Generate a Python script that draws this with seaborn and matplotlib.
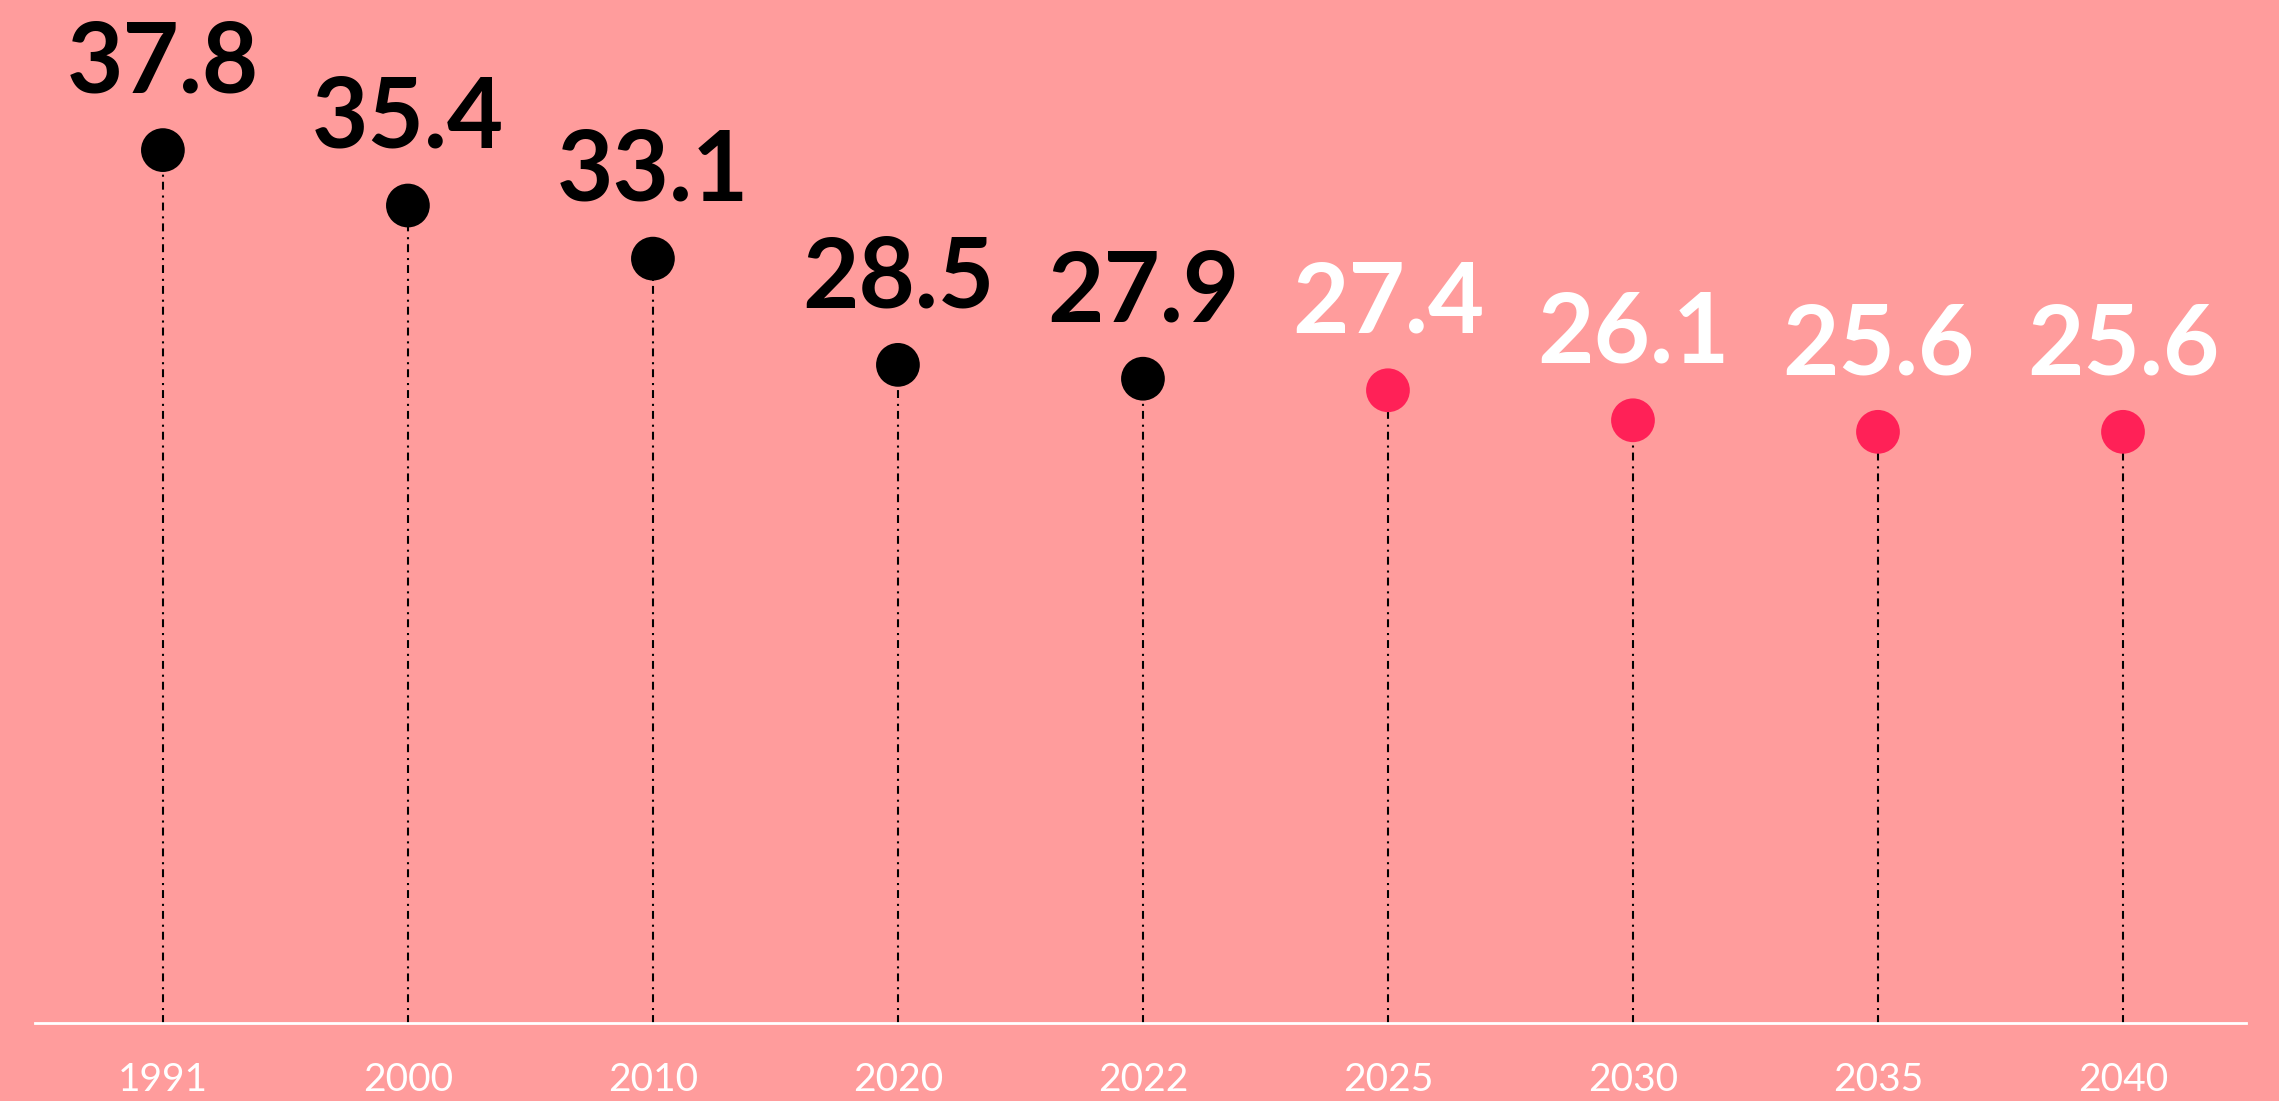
import matplotlib
matplotlib.use("Agg")
import matplotlib.pyplot as plt
import seaborn as sns
import pandas as pd

years = ["1991", "2000", "2010", "2020", "2022", "2025", "2030", "2035", "2040"]
values = [37.8, 35.4, 33.1, 28.5, 27.9, 27.4, 26.1, 25.6, 25.6]
kind = ["actual"] * 5 + ["forecast"] * 4

BG = "#FF9C9C"
MARKER_COLORS = {"actual": "#000000", "forecast": "#FF2157"}
LABEL_COLORS = {"actual": "#000000", "forecast": "#FFFFFF"}

sns.set_theme(style="white")
plt.rcParams["font.family"] = ["Lato", "DejaVu Sans"]

df = pd.DataFrame({"year": years, "value": values, "kind": kind})
df["pos"] = range(len(df))

fig = plt.figure(figsize=(22.79, 11.01), dpi=100, facecolor=BG)
ax = fig.add_axes([35 / 2279, 78 / 1101, (2246 - 35) / 2279, 1 - 78 / 1101])
ax.set_facecolor(BG)

# dash-dot stems from the baseline up to each point
ax.vlines(df["pos"], 0, df["value"], colors="black", linewidth=1.5,
          linestyles=(0, (3.8, 2.4, 1.0, 2.8)), zorder=1)

sns.scatterplot(data=df, x="pos", y="value", hue="kind", palette=MARKER_COLORS,
                s=31.5 ** 2, linewidth=0, legend=False, ax=ax, zorder=3)

for _, r in df.iterrows():
    ax.annotate(f"{r['value']:.1f}", (r["pos"], r["value"]), xytext=(0, 41.5),
                textcoords="offset points", ha="center", va="baseline",
                fontsize=70, fontweight="bold", color=LABEL_COLORS[r["kind"]])

ax.set_xlim(-0.522, 8.502)
ax.set_ylim(0, 44.3)
ax.set_xticks(df["pos"])
ax.set_xticklabels(df["year"], fontsize=28, color="white")
ax.set_yticks([])
ax.tick_params(axis="x", length=0, pad=28)
ax.set_xlabel("")
ax.set_ylabel("")
for s in ["top", "left", "right"]:
    ax.spines[s].set_visible(False)
ax.spines["bottom"].set_color("white")
ax.spines["bottom"].set_linewidth(2)
ax.spines["bottom"].set_zorder(2)

fig.savefig("out.png", dpi=100, facecolor=BG)
